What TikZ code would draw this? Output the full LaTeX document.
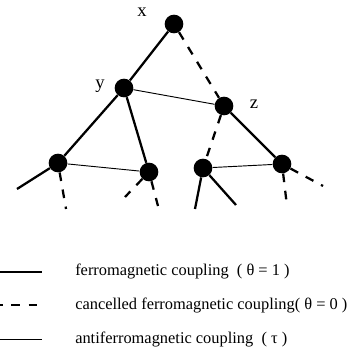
\documentclass[tikz,border=0pt]{standalone}
\usepackage{fontspec}
\setmainfont{Liberation Serif}
\usetikzlibrary{positioning}
\tikzset{
  spin/.style={circle, fill=black, inner sep=0pt, minimum size=14pt},
  ferro/.style={line width=1.7pt},
  cancel/.style={line width=1.7pt, dash pattern=on 6.5pt off 6.5pt},
  anti/.style={line width=0.7pt},
  lbl/.style={font=\fontsize{14}{14}\selectfont},
  legtext/.style={anchor=west, font=\fontsize{12.3}{14}\selectfont, inner sep=0pt}
}

\begin{document}
\begin{tikzpicture}[x=0.75pt, y=-0.75pt]
  \useasboundingbox (0,0) rectangle (350,348);
  % spins
  \node[spin] (x) at (174,24) {};
  \node[spin] (y) at (124,88) {};
  \node[spin] (z) at (224,106) {};
  \node[spin] (a) at (58,163) {};
  \node[spin] (b) at (149,172) {};
  \node[spin] (c) at (203,168) {};
  \node[spin] (d) at (282,164) {};
  \node[lbl] (xl) at (142,12) {x};
  \node[lbl] (yl) at (100,86) {y};
  \node[lbl] (zl) at (254,104) {z};
  % free ends
  \coordinate (a1) at (17,189);
  \coordinate (a2) at (66,209);
  \coordinate (b1) at (125,197);
  \coordinate (b2) at (158,206);
  \coordinate (c1) at (195,209);
  \coordinate (c2) at (236,205);
  \coordinate (d1) at (287,206);
  \coordinate (d2) at (323,186);
  % couplings
  \draw[ferro] (x) -- (y);
  \draw[cancel] (x) -- (z);
  \draw[anti] (y) -- (z);
  \draw[ferro] (y) -- (a);
  \draw[ferro] (y) -- (b);
  \draw[cancel] (z) -- (c);
  \draw[ferro] (z) -- (d);
  \draw[anti] (a) -- (b);
  \draw[anti] (c) -- (d);
  \draw[ferro] (a) -- (a1);
  \draw[cancel] (a) -- (a2);
  \foreach \e in {b1,b2} {
    \draw[cancel] (b) -- (\e);
  }
  \foreach \e in {c1,c2} {
    \draw[ferro] (c) -- (\e);
  }
  \foreach \e in {d1,d2} {
    \draw[cancel] (d) -- (\e);
  }
  % legend
  \coordinate (l1) at (0,272);
  \coordinate (r1) at (42,272);
  \coordinate (l2) at (0,305);
  \coordinate (r2) at (42,305);
  \coordinate (l3) at (0,339);
  \coordinate (r3) at (42,339);
  \draw[ferro] (l1) -- (r1);
  \draw[cancel, dash phase=4.5pt] (l2) -- (r2);
  \draw[anti] (l3) -- (r3);
  \node[legtext] (t1) at (75,272) {ferromagnetic coupling \ ( θ = 1 )};
  \node[legtext] (t2) at (75,305) {cancelled ferromagnetic coupling( θ = 0 )};
  \node[legtext] (t3) at (75,339) {antiferromagnetic coupling \ ( τ )};
\end{tikzpicture}
\end{document}
